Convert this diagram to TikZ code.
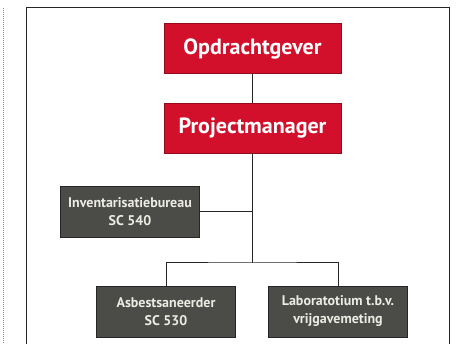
\documentclass[tikz,border=0pt]{standalone}
\usepackage{fontspec}
\setmainfont{PT Sans}
\definecolor{orgred}{HTML}{D3102B}
\definecolor{orggrey}{HTML}{4B4C47}
\definecolor{boxtext}{HTML}{ECEBE4}
\begin{document}
\begin{tikzpicture}[x=1pt,y=-1pt,
    redbox/.style={rectangle,draw=orgred!70!black,fill=orgred,text=white,
      minimum width=177pt,minimum height=50pt,inner sep=0pt,
      font=\fontsize{22}{24}\selectfont\bfseries},
    greybox/.style={rectangle,draw=black!85,fill=orggrey,text=boxtext,line width=0.8pt,
      minimum width=139pt,minimum height=51pt,inner sep=0pt,align=center,
      font=\fontsize{14}{18}\selectfont\bfseries},
    link/.style={draw=black!85,line width=1pt}]
  \useasboundingbox (0,0) rectangle (463,344);
% frame
  \draw [black!85,line width=1pt] (26,344) -- (26,8) -- (449,8) -- (449,344);
  \draw [black!45,densely dotted,line width=1pt] (3,8) -- (3,344);
% boxes
  \node[redbox]  (opd) at (252.5,48.5)  {Opdrachtgever};
  \node[redbox]  (pm)  at (252.5,128)   {Projectmanager};
  \node[greybox] (inv) at (130,211.5)   {Inventarisatiebureau\\SC 540};
  \node[greybox] (asb) at (166,311.5)   {Asbestsaneerder\\SC 530};
  \node[greybox] (lab) at (338,311.5)   {Laboratotium t.b.v.\\vrijgavemeting};
  \coordinate (hub) at (252.5,263);
% links
  \draw [link] (opd) -- (pm);
  \draw [link] (pm) -- (hub);
  \draw [link] (inv.east) -- (inv.east -| hub);
  \draw [link] (asb.north) |- (hub) -| (lab.north);
\end{tikzpicture}
\end{document}
